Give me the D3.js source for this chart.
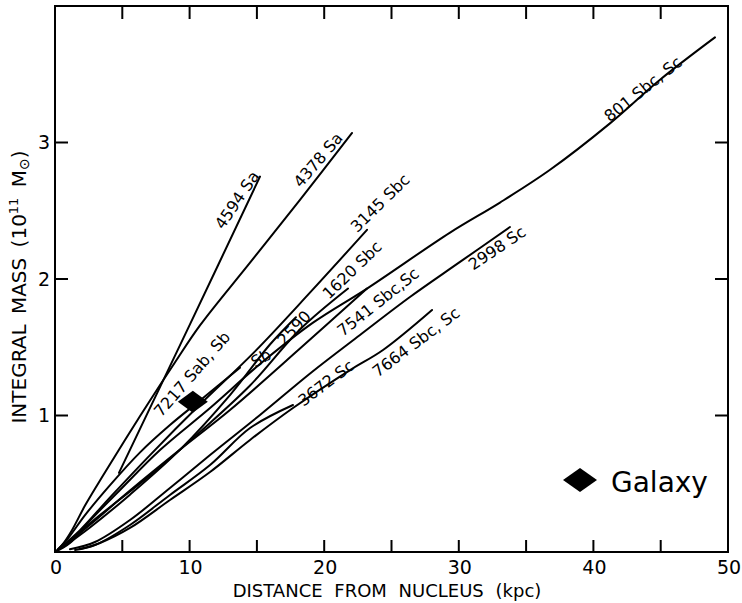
<!DOCTYPE html>
<html>
<head>
<meta charset="utf-8">
<script src="https://cdn.jsdelivr.net/npm/d3@7"></script>
<style>
  body { margin: 0; background: #fff; }
  svg { display: block; }
  text { font-family: "DejaVu Sans", sans-serif; fill: #000; }
  .curve { fill: none; stroke: #000; stroke-width: 2; stroke-linecap: round; }
  .frame line { stroke: #000; stroke-width: 2; }
</style>
</head>
<body>
<svg id="chart" width="742" height="603"></svg>
<script>
// integral mass curves, [distance kpc, mass 1e11 Msun]
var n4378 = [[0,0],[0.52,0.05],[1.26,0.16],[2.23,0.34],[3.57,0.56],[5.2,0.82],[7.06,1.11],[8.92,1.39],[10.77,1.66],[14.49,2.12],[18.2,2.58],[22.07,3.07]];
var n4594 = [[4.75,0.58],[9.99,1.66],[15.23,2.75]];
var n7217 = [[0.22,0.02],[0.97,0.10],[2.23,0.27],[4.09,0.49],[6.32,0.73],[8.54,0.93],[10.77,1.11],[13.74,1.35]];
var n3145 = [[0.37,0.03],[1.86,0.16],[4.09,0.40],[7.06,0.71],[10.77,1.08],[14.86,1.47],[18.94,1.90],[23.18,2.36]];
var n2590 = [[0.52,0.03],[2.6,0.18],[5.57,0.42],[9.29,0.75],[13.0,1.15],[15.97,1.52],[17.9,1.72]];
var n1620 = [[0.74,0.05],[3.34,0.27],[7.06,0.56],[10.77,0.88],[14.49,1.22],[18.2,1.63],[21.77,1.93]];
var n7541 = [[0.74,0.05],[2.6,0.20],[5.57,0.45],[9.29,0.75],[13.0,1.04],[18.2,1.49],[23.18,1.93]];
var n801 = [[0,0],[1.11,0.066],[2.6,0.23],[4.83,0.454],[7.8,0.747],[11.52,1.055],[15.23,1.377],[19.17,1.68],[23.18,1.93],[29.35,2.34],[33.06,2.56],[36.78,2.80],[41.23,3.14],[44.95,3.46],[49.03,3.77]];
var n2998 = [[1.11,0.02],[2.97,0.073],[5.57,0.234],[8.54,0.469],[11.52,0.711],[15.23,1.004],[19.09,1.319],[22.66,1.59],[26.37,1.868],[30.09,2.125],[33.8,2.381]];
var n7664 = [[1.86,0.022],[3.34,0.066],[5.57,0.176],[8.54,0.381],[11.52,0.586],[14.49,0.821],[17.68,1.055],[21.92,1.333],[24.37,1.48],[28.01,1.773]];
var n3672 = [[1.49,0.015],[2.97,0.051],[5.57,0.198],[8.54,0.418],[11.52,0.637],[14.49,0.908],[17.68,1.077]];

var galaxyPoint = [10.24, 1.10];

var xTicks = [0, 10, 20, 30, 40, 50];
var xMinor = [5, 10, 15, 20, 25, 30, 35, 40, 45];
var yTicks = [1, 2, 3];

// curve labels: text, where it sits (data units) and its slant
var labels = [
  ['4594 Sa', 13.52, 2.579, -56],
  ['4378 Sa', 19.54, 2.872, -49.5],
  ['3145 Sbc', 24.15, 2.557, -44.5],
  ['1620 Sbc', 22.07, 2.066, -44],
  ['2590', 17.76, 1.641, -47],
  ['Sb', 15.3, 1.421, -30],
  ['7541 Sbc,Sc', 24.0, 1.832, -38.5],
  ['7664 Sbc, Sc', 26.82, 1.538, -37],
  ['3672 Sc', 20.13, 1.238, -37],
  ['2998 Sc', 32.84, 2.227, -34],
  ['801 Sbc, Sc', 43.68, 3.392, -38.5],
  ['7217 Sab, Sb', 10.18, 1.304, -49]
];

var curves = [n4378, n4594, n7217, n3145, n2590, n1620, n7541, n801, n2998, n7664, n3672];

var svg = d3.select('#chart');
var x = d3.scaleLinear().domain([0, 50]).range([55, 728]);
var y = d3.scaleLinear().domain([0, 4]).range([552, 6]);

var line = d3.line()
    .x(function (d) { return x(d[0]); })
    .y(function (d) { return y(d[1]); })
    .curve(d3.curveCatmullRom.alpha(0.5));

svg.selectAll('path.curve')
    .data(curves)
    .enter().append('path')
    .attr('class', 'curve')
    .attr('d', line);

// frame and ticks (all ticks point inward)
var frame = svg.append('g').attr('class', 'frame');
frame.append('rect')
    .attr('x', x(0)).attr('y', y(4))
    .attr('width', x(50) - x(0)).attr('height', y(0) - y(4))
    .attr('fill', 'none').attr('stroke', '#000').attr('stroke-width', 2);

xMinor.forEach(function (v) {
    frame.append('line').attr('x1', x(v)).attr('x2', x(v)).attr('y1', y(0)).attr('y2', y(0) - 12);
    frame.append('line').attr('x1', x(v)).attr('x2', x(v)).attr('y1', y(4)).attr('y2', y(4) + 13);
});
yTicks.forEach(function (v) {
    frame.append('line').attr('x1', x(0)).attr('x2', x(0) + 13).attr('y1', y(v)).attr('y2', y(v));
    frame.append('line').attr('x1', x(50)).attr('x2', x(50) - 13).attr('y1', y(v)).attr('y2', y(v));
});

svg.selectAll('text.xt')
    .data(xTicks)
    .enter().append('text')
    .attr('class', 'xt')
    .attr('x', function (d) { return x(d) + 1; })
    .attr('y', y(0) + 22)
    .attr('text-anchor', 'middle')
    .attr('font-size', 19)
    .text(function (d) { return d; });

svg.selectAll('text.yt')
    .data(yTicks)
    .enter().append('text')
    .attr('class', 'yt')
    .attr('x', x(0) - 5)
    .attr('y', function (d) { return y(d); })
    .attr('dy', '0.36em')
    .attr('text-anchor', 'end')
    .attr('font-size', 19)
    .text(function (d) { return d; });

svg.append('text')
    .attr('x', 387)
    .attr('y', 597)
    .attr('text-anchor', 'middle')
    .attr('font-size', 18)
    .attr('word-spacing', 6)
    .text('DISTANCE FROM NUCLEUS (kpc)');

var ylab = svg.append('text')
    .attr('transform', 'translate(26,287) rotate(-90)')
    .attr('text-anchor', 'middle')
    .attr('font-size', 20)
    .attr('word-spacing', 4);
ylab.append('tspan').text('INTEGRAL MASS (10');
ylab.append('tspan').attr('font-size', 13).attr('dy', -8).text('11');
ylab.append('tspan').attr('dy', 8).text(' M');
ylab.append('tspan').attr('font-size', 14).attr('dy', 3).text('\u2299');
ylab.append('tspan').attr('dy', -3).text(')');

svg.selectAll('text.lab')
    .data(labels)
    .enter().append('text')
    .attr('class', 'lab')
    .attr('transform', function (d) {
        return 'translate(' + x(d[1]) + ',' + y(d[2]) + ') rotate(' + d[3] + ')';
    })
    .attr('text-anchor', 'middle')
    .attr('dy', '0.35em')
    .attr('font-size', 16)
    .text(function (d) { return d[0]; });

// diamond for the Galaxy, plus legend
function diamond(cx, cy, w, h) {
    return 'M' + (cx - w / 2) + ',' + cy + 'L' + cx + ',' + (cy - h / 2) +
        'L' + (cx + w / 2) + ',' + cy + 'L' + cx + ',' + (cy + h / 2) + 'Z';
}
svg.append('path')
    .attr('d', diamond(x(galaxyPoint[0]), y(galaxyPoint[1]), 30, 22))
    .attr('fill', '#000');

svg.append('path')
    .attr('d', diamond(580, 480, 34, 24))
    .attr('fill', '#000');
svg.append('text')
    .attr('x', 611)
    .attr('y', 492)
    .attr('font-size', 28)
    .text('Galaxy');
</script>
</body>
</html>
